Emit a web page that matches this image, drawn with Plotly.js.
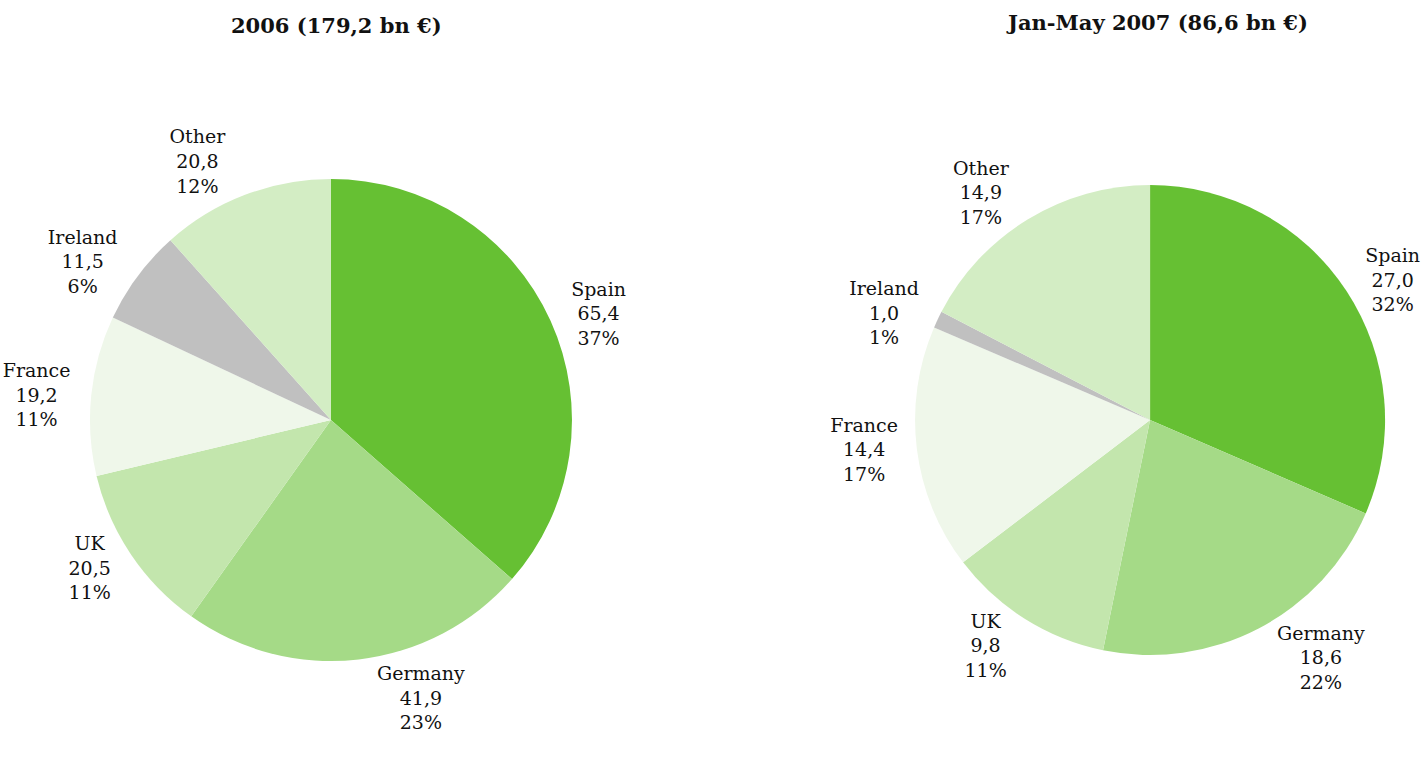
<!DOCTYPE html>
<html>
<head>
<meta charset="utf-8">
<script src="https://cdn.plot.ly/plotly-3.0.1.min.js"></script>
<style>html,body{margin:0;padding:0;background:#fff;}#chart{width:1426px;height:768px;}</style>
</head>
<body>
<div id="chart"></div>
<script>
const categories = ['Spain', 'Germany', 'UK', 'France', 'Ireland', 'Other'];
const values2006 = [65.4, 41.9, 20.5, 19.2, 11.5, 20.8];
const percent2006 = [37, 23, 11, 11, 6, 12];
const values2007 = [27.0, 18.6, 9.8, 14.4, 1.0, 14.9];
const percent2007 = [32, 22, 11, 17, 1, 17];
const title2006 = '2006 (179,2 bn €)';
const title2007 = 'Jan-May 2007 (86,6 bn €)';
const sliceColors = ['#66c033', '#a5da87', '#c3e6ad', '#eff7ea', '#c0c0c0', '#d3edc4'];

const font = {family: 'DejaVu Serif, serif', size: 19, color: '#111'};
function slices(vals, dom) {
  return {
    type: 'pie', labels: categories, values: vals, sort: false, direction: 'clockwise', rotation: 0,
    marker: {colors: sliceColors, line: {width: 0}},
    textinfo: 'none', hoverinfo: 'none', domain: dom, showlegend: false
  };
}
function labelRing(vals, pcts, dom) {
  return {
    type: 'pie', labels: categories, values: vals, sort: false, direction: 'clockwise', rotation: 0,
    marker: {colors: categories.map(() => 'rgba(0,0,0,0)'), line: {width: 0}},
    text: pcts.map(p => p + '%'),
    textposition: 'outside',
    texttemplate: '%{label}<br>%{value:.1f}<br>%{text}',
    outsidetextfont: font,
    hoverinfo: 'none', domain: dom, showlegend: false
  };
}
const data = [
  slices(values2006, {x: [0.0631, 0.4011], y: [0.1393, 0.7669]}),
  labelRing(values2006, percent2006, {x: [0.0610, 0.4032], y: [0.1354, 0.7708]}),
  slices(values2007, {x: [0.6417, 0.9713], y: [0.1471, 0.7591]}),
  labelRing(values2007, percent2007, {x: [0.6410, 0.9720], y: [0.1458, 0.7604]})
];
const titleFont = {family: 'DejaVu Serif, serif', size: 21, color: '#111'};
const layout = {
  width: 1426, height: 768,
  margin: {l: 0, r: 0, t: 0, b: 0},
  paper_bgcolor: '#fff',
  separators: ',.',
  font: font,
  annotations: [
    {text: '<b>' + title2006 + '</b>', x: 0.2363, y: 1 - 25/768, xanchor: 'center', yanchor: 'middle', xref: 'paper', yref: 'paper', showarrow: false, font: titleFont},
    {text: '<b>' + title2007 + '</b>', x: 0.8114, y: 1 - 22/768, xanchor: 'center', yanchor: 'middle', xref: 'paper', yref: 'paper', showarrow: false, font: titleFont}
  ]
};
Plotly.newPlot('chart', data, layout, {displayModeBar: false, staticPlot: true});
</script>
</body>
</html>
